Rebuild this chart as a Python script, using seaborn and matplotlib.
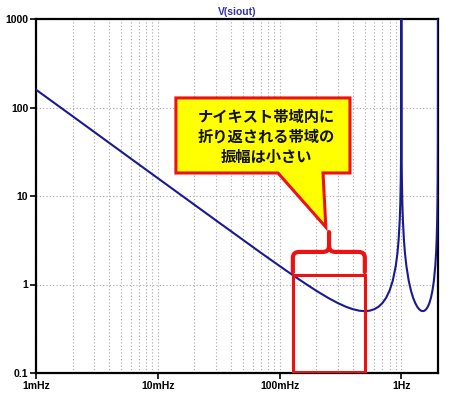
import numpy as np
import pandas as pd
import seaborn as sns
import matplotlib.pyplot as plt
from matplotlib.patches import Polygon, Rectangle, PathPatch
from matplotlib.path import Path
from matplotlib.ticker import FixedLocator, NullFormatter

# values (frequency in Hz, magnitude)
freq_hz = [0.001, 0.002, 0.005, 0.01, 0.02, 0.03, 0.05, 0.07, 0.1, 0.13, 0.16,
           0.2, 0.25, 0.3, 0.35, 0.4, 0.45, 0.5, 0.55, 0.6, 0.65, 0.7, 0.75,
           0.8, 0.85, 0.9, 0.93, 0.95, 0.97, 0.98, 0.99, 0.995, 0.998, 0.9995, 0.9999,
           1.0001, 1.0005, 1.002, 1.005, 1.01, 1.02, 1.03, 1.05, 1.07, 1.1, 1.15,
           1.2, 1.25, 1.3, 1.35, 1.4, 1.45, 1.5, 1.55, 1.6, 1.65, 1.7, 1.75,
           1.8, 1.85, 1.9, 1.93, 1.95, 1.97, 1.98, 1.99, 1.995, 1.998, 1.9995, 1.9999]
magnitude = [159, 79.6, 31.8, 15.9, 7.96, 5.31, 3.20, 2.29, 1.62, 1.26, 1.04,
             0.851, 0.707, 0.618, 0.561, 0.526, 0.506, 0.500, 0.506, 0.526, 0.561, 0.618, 0.707,
             0.851, 1.10, 1.62, 2.29, 3.20, 5.31, 7.96, 15.9, 31.8, 79.6, 318, 1592,
             1592, 318, 79.6, 31.8, 15.9, 7.96, 5.31, 3.20, 2.29, 1.62, 1.10,
             0.851, 0.707, 0.618, 0.561, 0.526, 0.506, 0.500, 0.506, 0.526, 0.561, 0.618, 0.707,
             0.851, 1.10, 1.62, 2.29, 3.20, 5.31, 7.96, 15.9, 31.8, 79.6, 318, 1592]

x_ticks = [0.001, 0.01, 0.1, 1]
x_labels = ['1mHz', '10mHz', '100mHz', '1Hz']
y_ticks = [0.1, 1, 10, 100, 1000]
y_labels = ['0.1', '1', '10', '100', '1000']

callout_lines = ['ナイキスト帯域内に', '折り返される帯域の', '振幅は小さい']
band = (0.129, 0.5)  # highlighted band, Hz

df = pd.DataFrame({'f': freq_hz, 'v': magnitude})

sns.set_theme(style='white')
plt.rcParams['font.family'] = ['Liberation Sans', 'DejaVu Sans']

fig = plt.figure(figsize=(4.51, 3.96), dpi=100)
ax = fig.add_axes([36 / 451, 23 / 396, 402 / 451, 354 / 396])

sns.lineplot(data=df, x='f', y='v', ax=ax, color='#1a1a8e', linewidth=1.5,
             sort=False, estimator=None, zorder=3)

ax.set_xscale('log')
ax.set_yscale('log')
ax.set_xlim(0.001, 2.0)
ax.set_ylim(0.1, 1000)

ax.set_xticks(x_ticks)
ax.set_xticklabels(x_labels)
ax.set_yticks(y_ticks)
ax.set_yticklabels(y_labels)
minor_x = [m * d for d in [0.001, 0.01, 0.1, 1] for m in range(2, 10) if m * d < 2]
ax.xaxis.set_minor_locator(FixedLocator(minor_x))
ax.xaxis.set_minor_formatter(NullFormatter())
minor_y = [m * d for d in [0.1, 1, 10, 100] for m in range(2, 10)]
ax.yaxis.set_minor_locator(FixedLocator(minor_y))
ax.yaxis.set_minor_formatter(NullFormatter())

ax.tick_params(axis='both', which='major', direction='out', length=4, width=1.2,
               labelsize=7.5, pad=1.5, colors='black')
ax.tick_params(axis='both', which='minor', direction='out', length=2.5, width=1.0)
ax.tick_params(axis='both', left=True, bottom=True)
for lab in ax.get_xticklabels() + ax.get_yticklabels():
    lab.set_fontweight('bold')

ax.grid(True, axis='x', which='both', color='#a8a8a8', linestyle=(0, (1, 2)), linewidth=0.8)
ax.grid(True, axis='y', which='major', color='#a8a8a8', linestyle=(0, (1, 2)), linewidth=0.8)

for s in ax.spines.values():
    s.set_color('black')
    s.set_linewidth(1.6)

ax.set_xlabel('')
ax.set_ylabel('')
ax.set_title('V(siout)', color='#3030b0', fontsize=7.5, fontweight='bold', pad=3)

# yellow callout with pointer (axes fraction)
callout = Polygon([(0.348, 0.565), (0.602, 0.565), (0.721, 0.412), (0.714, 0.565),
                   (0.781, 0.565), (0.781, 0.777), (0.348, 0.777)],
                  closed=True, transform=ax.transAxes, facecolor='#ffff00',
                  edgecolor='#ee1111', linewidth=2.2, zorder=5)
ax.add_patch(callout)
ax.text(0.574, 0.667, '\n'.join(callout_lines), transform=ax.transAxes,
        ha='center', va='center', fontsize=11, fontweight='bold', color='#111111',
        family=['Noto Sans CJK JP', 'DejaVu Sans'], linespacing=1.3, zorder=6)

# red brace above the band
bl, br, bc = 0.639, 0.818, 0.729
yb, yl, yt = 0.342, 0.285, 0.398
r = 0.016
verts = [(bl, yl), (bl, yb - r), (bl, yb), (bl + r, yb), (bc - r, yb), (bc, yb), (bc, yb + r),
         (bc, yt), (bc, yb + r), (bc, yb), (bc + r, yb), (br - r, yb), (br, yb), (br, yb - r), (br, yl)]
codes = [Path.MOVETO, Path.LINETO, Path.CURVE3, Path.CURVE3, Path.LINETO, Path.CURVE3, Path.CURVE3,
         Path.LINETO, Path.MOVETO, Path.CURVE3, Path.CURVE3, Path.LINETO, Path.CURVE3, Path.CURVE3,
         Path.LINETO]
ax.add_patch(PathPatch(Path(verts, codes), transform=ax.transAxes, facecolor='none',
                       edgecolor='#ee1111', linewidth=3.0, capstyle='round', zorder=5))

# red box marking the band
ax.add_patch(Rectangle((band[0], 0.103), band[1] - band[0], 1.28 - 0.103,
                       facecolor='none', edgecolor='#ee1111', linewidth=2.2, zorder=4))

fig.savefig('out.png', dpi=100)
